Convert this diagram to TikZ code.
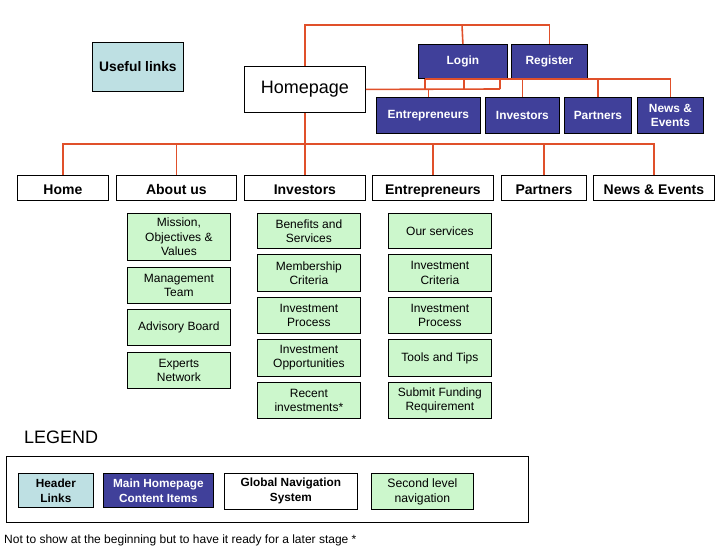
\documentclass[tikz,border=0pt]{standalone}
\usepackage{fontspec}
\setmainfont{Liberation Sans}
\usepackage{xcolor}
\usetikzlibrary{calc}

\definecolor{hdrblue}{HTML}{BEE0E3}
\definecolor{mainblue}{HTML}{40409A}
\definecolor{lvlgreen}{HTML}{CCF7CC}
\definecolor{linkred}{HTML}{E0502A}

\tikzset{
  box/.style={draw=black, line width=0.8pt, anchor=north west, inner sep=0pt, align=center},
  header/.style={box, fill=hdrblue, font=\bfseries\fontsize{13.8}{15}\selectfont},
  mainitem/.style={box, fill=mainblue, text=white, font=\bfseries\fontsize{11.9}{14}\selectfont},
  globalnav/.style={box, fill=white, minimum height=25pt, text height=13pt, text depth=0pt, font=\bfseries\fontsize{14}{16}\selectfont},
  second/.style={box, fill=lvlgreen, minimum width=103pt, font=\fontsize{12}{14.3}\selectfont},
  legenditem/.style={font=\bfseries\fontsize{11.8}{15}\selectfont},
  link/.style={draw=linkred, line width=1.6pt}
}

\begin{document}
\begin{tikzpicture}[x=1pt, y=-1pt]
  \useasboundingbox (0,0) rectangle (728,546);

  % header and homepage
  \node[header, minimum width=91pt, minimum height=49pt] (useful) at (92,42) {Useful links};
  \node[box, minimum width=121pt, minimum height=46pt, font=\fontsize{18}{20}\selectfont] (homepage) at (244,66) {Homepage};

  % main homepage content items
  \node[mainitem, minimum width=89pt, minimum height=34pt] (login) at (418,44) {Login};
  \node[mainitem, minimum width=76pt, minimum height=34pt] (register) at (511,44) {Register};
  \node[mainitem, minimum width=104pt, minimum height=36pt] (entitem) at (376,97) {Entrepreneurs};
  \node[mainitem, minimum width=74pt, minimum height=36pt] (invitem) at (485,97) {Investors};
  \node[mainitem, minimum width=67pt, minimum height=36pt] (partitem) at (564,97) {Partners};
  \node[mainitem, minimum width=66pt, minimum height=36pt] (newsitem) at (637,97) {News \&\\Events};

  % global navigation
  \node[globalnav, minimum width=91pt] (homenav) at (17,175) {Home};
  \node[globalnav, minimum width=120pt] (aboutnav) at (116,175) {About us};
  \node[globalnav, minimum width=121pt] (invnav) at (244,175) {Investors};
  \node[globalnav, minimum width=121pt] (entnav) at (372,175) {Entrepreneurs};
  \node[globalnav, minimum width=85pt] (partnav) at (501,175) {Partners};
  \node[globalnav, minimum width=121pt] (newsnav) at (593,175) {News \& Events};

  % second level: about us
  \node[second, minimum height=47pt] (mission) at (127,213) {Mission,\\Objectives \&\\Values};
  \node[second, minimum height=36pt] (mgmt) at (127,267) {Management\\Team};
  \node[second, minimum height=36pt] (advisory) at (127,309) {Advisory Board};
  \node[second, minimum height=36pt] (experts) at (127,352) {Experts\\Network};

  % second level: investors
  \node[second, minimum height=35pt] (benefits) at (257,213) {Benefits and\\Services};
  \node[second, minimum height=37pt] (member) at (257,254) {Membership\\Criteria};
  \node[second, minimum height=36pt] (invproc) at (257,297) {Investment\\Process};
  \node[second, minimum height=37pt] (invopp) at (257,339) {Investment\\Opportunities};
  \node[second, minimum height=36pt] (recent) at (257,382) {Recent\\investments*};

  % second level: entrepreneurs
  \node[second, minimum height=35pt] (services) at (388,213) {Our services};
  \node[second, minimum height=37pt] (entcrit) at (388,254) {Investment\\Criteria};
  \node[second, minimum height=36pt] (entproc) at (388,297) {Investment\\Process};
  \node[second, minimum height=37pt] (tools) at (388,339) {Tools and Tips};
  \node[second, minimum height=36pt] (funding) at (388,382) {Submit Funding\\Requirement};

  % connectors
  \coordinate (top) at (462,25);
  \coordinate (bus) at (305,144);
  \coordinate (ja) at (425,89);
  \coordinate (jb) at (464,89);
  \coordinate (jc) at (500,89);
  \draw[link] (homepage.north) |- (top) -| (register.north);
  \draw[link] (top) -- (login.north);
  \draw[link] (homepage.east) -- (jc);
  \draw[link] (ja) -- (ja |- login.south);
  \draw[link] (jb) -- (jb |- login.south);
  \draw[link] (jc) -- (jc |- login.south);
  \draw[link] (ja |- login.south) -| (newsitem.north);
  \draw[link] (entitem.north) -- (entitem.north |- jc);
  \draw[link] (invitem.north) -- (invitem.north |- login.south);
  \draw[link] (partitem.north) -- (partitem.north |- login.south);
  \draw[link] (homepage.south) -- (invnav.north);
  \draw[link] (homenav.north) |- (bus);
  \draw[link] (aboutnav.north) |- (bus);
  \draw[link] (newsnav.north) |- (bus);
  \draw[link] (entnav.north) -- (entnav.north |- bus);
  \draw[link] (partnav.north) -- (partnav.north |- bus);

  % legend
  \node[anchor=west, inner sep=0pt, font=\fontsize{18}{20}\selectfont] (legend) at (24,437) {LEGEND};
  \node[box, minimum width=522pt, minimum height=66pt] (legendbox) at (6,456) {};
  \node[header, legenditem, minimum width=75pt, minimum height=34pt] (lgheader) at (18,473) {Header\\Links};
  \node[mainitem, legenditem, minimum width=110pt, minimum height=34pt] (lgmain) at (103,473) {Main Homepage\\Content Items};
  \node[box, legenditem, minimum width=133pt, minimum height=36pt] (lgglobal) at (224,473) {Global Navigation\\System};
  \node[second, minimum width=102pt, minimum height=36pt, font=\fontsize{12.2}{15}\selectfont] (lgsecond) at (371,473) {Second level\\navigation};

  \node[anchor=west, inner sep=0pt, font=\fontsize{12}{14}\selectfont] (note) at (4,540) {Not to show at the beginning but to have it ready for a later stage *};
\end{tikzpicture}
\end{document}
